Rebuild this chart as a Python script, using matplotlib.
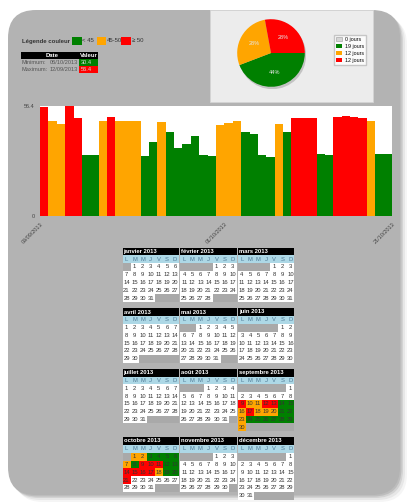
import calendar

import matplotlib
matplotlib.use('Agg')
import matplotlib.pyplot as plt
from matplotlib.patches import Rectangle, FancyBboxPatch, Patch, Circle
import numpy as np
import pandas as pd

plt.rcParams['font.family'] = ['Liberation Sans', 'DejaVu Sans']

# Daily readings from 09/09/2013 to 21/10/2013
days = pd.date_range('2013-09-09', '2013-10-21')
values = [
    56.1, 48.9, 47.0, 56.4, 50.1, 31.2, 31.2, 48.9, 50.9, 48.9, 48.9,   # 09/09 - 19/09
    48.9, 30.6, 37.8, 48.0, 42.9, 35.0, 36.8, 41.0, 31.2, 30.6, 46.7,   # 20/09 - 30/09
    47.5, 48.9, 42.9, 41.9, 31.2, 30.4, 47.0, 42.9, 50.3, 50.3, 50.3,   # 01/10 - 11/10
    32.0, 31.2, 50.8, 51.4, 50.8, 50.1, 48.9, 32.0, 32.0, 50.6,         # 12/10 - 21/10
]

# Colour classes: < 45, 45-50, >= 50
limits = [45, 50]
levelColors = ['#008000', '#ffa500', '#ff0000']
noDataColor = '#d6d6d6'

monthNames = ['janvier', 'février', 'mars', 'avril', 'mai', 'juin', 'juillet',
              'août', 'septembre', 'octobre', 'novembre', 'décembre']
weekDays = ['L', 'M', 'M', 'J', 'V', 'S', 'D']
year = 2013

W, H = 407, 504
PANEL = '#b3b3b3'


def levelOf(v):
    if v < limits[0]:
        return 0
    if v < limits[1]:
        return 1
    return 2


def figRect(x0, y0, x1, y1):
    """Pixel box (top-left origin) -> figure fraction rect"""
    return [x0 / W, 1 - y1 / H, (x1 - x0) / W, (y1 - y0) / H]


levels = [levelOf(v) for v in values]
barColors = [levelColors[l] for l in levels]
dayColor = {d.date(): c for d, c in zip(days, barColors)}

fig = plt.figure(figsize=(W / 100, H / 100), dpi=100)
fig.patch.set_facecolor('white')

# Background layer in pixel coordinates
bg = fig.add_axes([0, 0, 1, 1])
bg.set_xlim(0, W)
bg.set_ylim(H, 0)
bg.set_axis_off()

# Rounded grey panel with a soft shadow
for off, a in [(7, 0.05), (5, 0.08), (3, 0.12), (1.5, 0.15)]:
    bg.add_patch(FancyBboxPatch((8 + off, 10 + off), 392, 485,
                                boxstyle='round,pad=0,rounding_size=28',
                                facecolor='#444444', edgecolor='none', alpha=a))
bg.add_patch(FancyBboxPatch((8, 10), 392, 485, boxstyle='round,pad=0,rounding_size=28',
                            facecolor=PANEL, edgecolor='none'))

# Colour legend
txt = dict(fontsize=4.3, color='#333333', va='center')
bg.text(22, 41, 'Légende couleur', fontweight='bold', **txt)
legendLabels = ['< %g' % limits[0], '%g-%g' % (limits[0], limits[1]), '≥ %g' % limits[1]]
for i, (col, lab) in enumerate(zip(levelColors, legendLabels)):
    x0 = 72 + i * 24.5
    bg.add_patch(Rectangle((x0, 37), 9.5, 8, facecolor=col, edgecolor='none'))
    bg.text(x0 + 10.5, 41, lab, **txt)

# Min / max table
iMin, iMax = int(np.argmin(values)), int(np.argmax(values))
bg.add_patch(Rectangle((21, 52), 77, 6.5, facecolor='black', edgecolor='none'))
bg.text(52, 55.3, 'Date', color='white', fontsize=4.3, fontweight='bold', ha='center', va='center')
bg.text(88.5, 55.3, 'Valeur', color='white', fontsize=4.3, fontweight='bold', ha='center', va='center')
for row, (name, i) in enumerate([('Minimum:', iMin), ('Maximum:', iMax)]):
    y = 58.5 + row * 7.2
    bg.text(22, y + 3.6, name, fontsize=4.1, color='#555555', va='center')
    bg.text(77.5, y + 3.6, days[i].strftime('%d/%m/%Y'), fontsize=4.1, color='#555555',
            va='center', ha='right')
    bg.add_patch(Rectangle((79, y), 19, 7.2, facecolor=barColors[i], edgecolor='none'))
    bg.text(80.5, y + 3.6, '%.1f' % values[i], fontsize=4.1, color='#dddddd', va='center')

# Box behind the pie chart
bg.add_patch(Rectangle((210, 9.5), 163, 92, facecolor='#ececec', edgecolor='#d4d4d4', linewidth=0.6))

# Calendar grid
ROW = 7.8
CELL = 8.08
calLeft = 122.5
monthPitch = 57.7
top = 247.5
for blockRow in range(4):
    months = [blockRow * 3 + c + 1 for c in range(3)]
    nWeeks = max(len(calendar.monthcalendar(year, m)) for m in months)
    for c, m in enumerate(months):
        x0 = calLeft + c * monthPitch
        width = 7 * CELL
        bg.add_patch(Rectangle((x0, top), width, ROW, facecolor='black', edgecolor='none'))
        bg.text(x0 + 1, top + ROW / 2, '%s %d' % (monthNames[m - 1], year), color='white',
                fontsize=4.2, fontweight='bold', va='center')
        bg.add_patch(Rectangle((x0, top + ROW), width, ROW, facecolor='#add8e6', edgecolor='none'))
        for k, wd in enumerate(weekDays):
            bg.text(x0 + (k + 0.5) * CELL, top + 1.5 * ROW, wd, color='#4f7a96',
                    fontsize=4.2, ha='center', va='center')
        for w, week in enumerate(calendar.monthcalendar(year, m)):
            y = top + (2 + w) * ROW
            for k, d in enumerate(week):
                x = x0 + k * CELL
                if d == 0:
                    bg.add_patch(Rectangle((x, y), CELL, ROW, facecolor='#a9a9a9', edgecolor='none'))
                    continue
                date = pd.Timestamp(year, m, d).date()
                bg.add_patch(Rectangle((x, y), CELL, ROW, facecolor=dayColor.get(date, 'white'),
                                       edgecolor='none'))
                bg.text(x + CELL / 2, y + ROW / 2, str(d), color='#333333',
                        fontsize=4.2, ha='center', va='center')
    top += (2 + nWeeks) * ROW + 6

# Bar chart of the daily values
axBar = fig.add_axes(figRect(40, 106, 392, 216))
x = np.arange(len(values))
axBar.bar(x, values, width=1.0, align='edge', color=barColors, linewidth=0)
nShown = 42
axBar.set_xlim(0, nShown)
axBar.set_ylim(0, max(values))
axBar.set_facecolor('white')
for s in axBar.spines.values():
    s.set_visible(False)
axBar.set_yticks([0, max(values)])
axBar.set_yticklabels(['0', '%.1f' % max(values)], fontsize=4, color='#444444')
tickIdx = [0, 22, nShown]
axBar.set_xticks(tickIdx)
axBar.set_xticklabels([days[i].strftime('%d/%m/%Y') for i in tickIdx], fontsize=4,
                      color='#444444', rotation=45, ha='right', rotation_mode='anchor')
axBar.tick_params(length=0, pad=4)

# Pie chart of days per colour class
counts = [0] + [levels.count(l) for l in range(3)]
pieColors = [noDataColor] + levelColors
axPie = fig.add_axes(figRect(235.5, 17.5, 306.5, 88.5))
axPie.add_patch(Circle((0.04, -0.07), 1.0, facecolor='#777777', alpha=0.35, edgecolor='none'))
axPie.pie(counts, colors=pieColors, startangle=0, counterclock=False,
          autopct=lambda p: '%.0f%%' % p if p > 0 else '', pctdistance=0.58,
          textprops=dict(fontsize=4, color='#e6e6e6'), wedgeprops=dict(linewidth=0))
axPie.set_xlim(-1.05, 1.05)
axPie.set_ylim(-1.05, 1.05)

handles = [Patch(facecolor=c, edgecolor='#999999' if i == 0 else 'none', linewidth=0.4)
           for i, c in enumerate(pieColors)]
fig.legend(handles, ['%d jours' % n for n in counts], loc='upper left',
           bbox_to_anchor=(334 / W, 1 - 35 / H), fontsize=3.8, frameon=True,
           edgecolor='#bbbbbb', fancybox=False, handlelength=1.2, handleheight=0.8,
           borderpad=0.4, labelspacing=0.35, handletextpad=0.4, borderaxespad=0)

fig.savefig('out.png', dpi=100)
